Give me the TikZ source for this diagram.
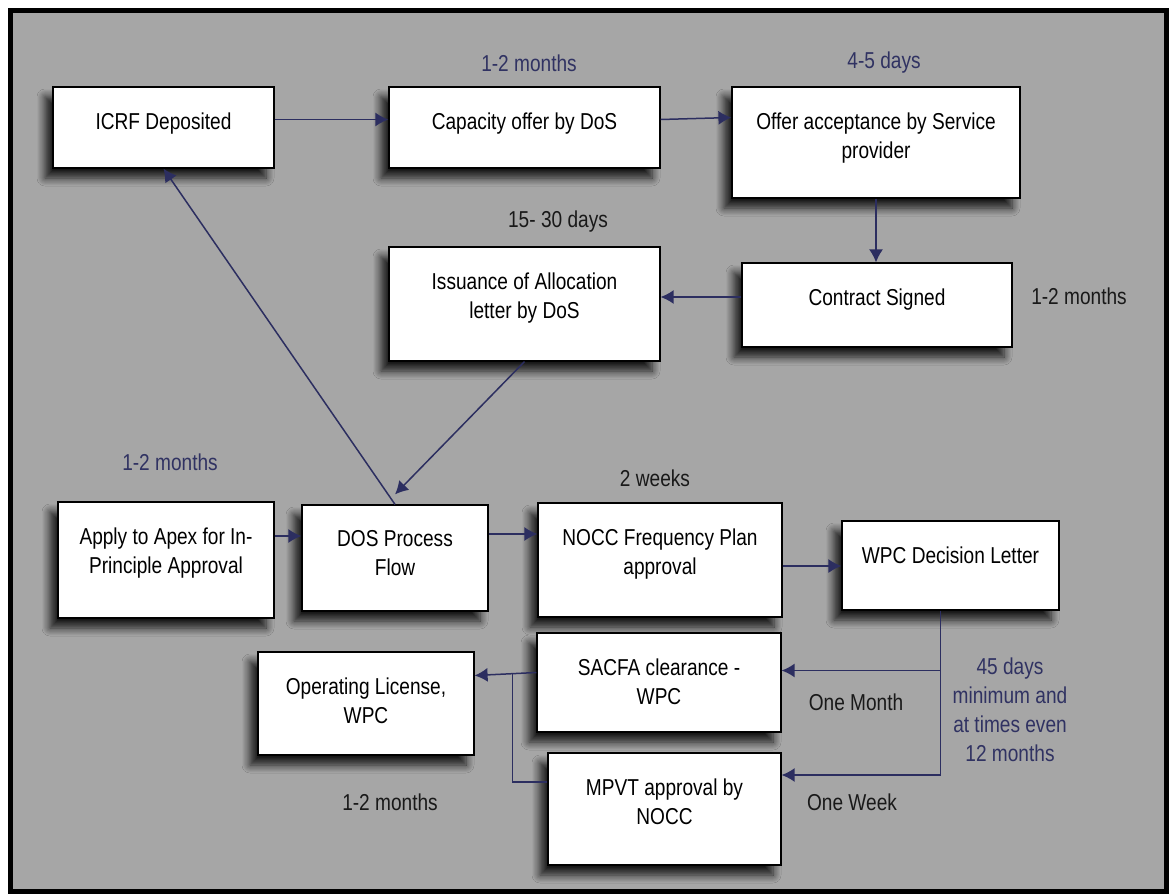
\documentclass[tikz,border=0pt]{standalone}
\usepackage{fontspec}
\setmainfont{Liberation Sans}[FakeStretch=0.83]
\usetikzlibrary{positioning}
\usetikzlibrary{arrows.meta,shadows.blur}
\definecolor{panelgray}{RGB}{166,166,166}
\definecolor{linknavy}{RGB}{44,46,96}
\definecolor{notenavy}{RGB}{48,50,98}
\tikzset{
	box/.style={draw=black, line width=0.6pt, fill=white, inner sep=0pt,
		blur shadow={shadow xshift=-4pt, shadow yshift=-5pt, shadow blur radius=4pt, shadow blur steps=8, shadow opacity=85}},
	intext/.style={anchor=north, yshift=-13pt, inner sep=0pt, align=center},
	link/.style={draw=linknavy, line width=0.75pt},
	arr/.style={link, -{Latex[length=6.5pt,width=7pt]}},
	note/.style={inner sep=0pt, align=center, text=black!90},
	bluenote/.style={note, text=notenavy},
}

\begin{document}
\begin{tikzpicture}[x=0.5pt, y=-0.5pt, font=\fontsize{11.5}{14.5}\selectfont]
				\useasboundingbox (0,0) rectangle (1170,894);
				\fill[white] (0,0) rectangle (1170,894);
				\draw[line width=2.5pt, fill=panelgray] (10,10) rectangle (1166,891);

				%Boxes
				\node[box, minimum width=110.5pt, minimum height=40.5pt, label={[intext]north:{ICRF Deposited}}] (icrf) at (163.5,127.5) {};
				\node[box, minimum width=135.5pt, minimum height=40.5pt, label={[intext]north:{Capacity offer by DoS}}] (capacity) at (524.5,127.5) {};
				\node[box, minimum width=144pt, minimum height=55.5pt, label={[intext]north:{Offer acceptance by Service\\provider}}] (offer) at (876,142.5) {};
				\node[box, minimum width=135.5pt, minimum height=57pt, label={[intext]north:{Issuance of Allocation\\letter by DoS}}] (issue) at (524.5,304) {};
				\node[box, minimum width=135pt, minimum height=42pt, label={[intext]north:{Contract Signed}}] (contract) at (877,305) {};
				\node[box, minimum width=108pt, minimum height=58pt, label={[intext]north:{Apply to Apex for In-\\Principle Approval}}] (apply) at (166,560) {};
				\node[box, minimum width=93pt, minimum height=53pt, label={[intext]north:{DOS Process\\Flow}}] (dos) at (395,558) {};
				\node[box, minimum width=122pt, minimum height=57pt, label={[intext]north:{NOCC Frequency Plan\\approval}}] (nocc) at (660,560) {};
				\node[box, minimum width=108.5pt, minimum height=44.5pt, label={[intext]north:{WPC Decision Letter}}] (wpc) at (950.5,565.5) {};
				\node[box, minimum width=122pt, minimum height=49.5pt, label={[intext]north:{SACFA clearance -\\WPC}}] (sacfa) at (659,682.5) {};
				\node[box, minimum width=108pt, minimum height=51.5pt, label={[intext]north:{Operating License,\\WPC}}] (oplic) at (366,703.5) {};
				\node[box, minimum width=116.5pt, minimum height=56pt, label={[intext]north:{MPVT approval by\\NOCC}}] (mpvt) at (664.5,809) {};

				%Durations
				\node[bluenote] (t1) at (529,63) {1-2 months};
				\node[bluenote] (t2) at (884,63) {4-5 days};
				\node[note] (t3) at (558,222) {15- 30 days};
				\node[note] (t4) at (1079,296) {1-2 months};
				\node[bluenote] (t5) at (170,462) {1-2 months};
				\node[note] (t6) at (655,478) {2 weeks};
				\node[note] (t7) at (856,702) {One Month};
				\node[note] (t8) at (852,802) {One Week};
				\node[bluenote] (t9) at (1010,710) {45 days\\minimum and\\at times even\\12 months};
				\node[note] (t10) at (390,802) {1-2 months};

				%Lines
				\draw[arr] ([yshift=4pt]icrf.east) -- ([yshift=4pt]capacity.west);
				\draw[arr] ([yshift=4pt]capacity.east) -- ([yshift=12.5pt]offer.west);
				\draw[arr] (offer.south) -- (offer.south |- contract.north);
				\draw[arr] ([yshift=4pt]contract.west) -- ([yshift=4pt]contract.west -| issue.east);
				\draw[arr] (issue.south) -- ([yshift=5pt]dos.north);
				\draw[arr] (dos.north) -- (icrf.south);
				\draw[arr] ([yshift=12pt]apply.east) -- ([yshift=12pt]apply.east -| dos.west);
				\draw[arr] ([yshift=12pt]dos.east) -- ([yshift=12pt]dos.east -| nocc.west);
				\draw[arr] ([yshift=-3pt]nocc.east) -- ([yshift=-3pt]nocc.east -| wpc.west);

				\coordinate (wpcdrop) at ([xshift=-5pt]wpc.south);
				\coordinate (sacfain) at ([yshift=6pt]sacfa.east);
				\coordinate (mpvtin) at ([yshift=17pt]mpvt.east);
				\draw[link] (wpcdrop) -- (wpcdrop |- mpvtin);
				\draw[arr] (wpcdrop |- sacfain) -- (sacfain);
				\draw[arr] (wpcdrop |- mpvtin) -- (mpvtin);

				\coordinate (sacfaout) at ([yshift=5pt]sacfa.west);
				\coordinate (mpvtout) at ([yshift=13.5pt]mpvt.west);
				\coordinate (merge) at ([xshift=-12pt]sacfaout);
				\draw[arr] (sacfaout) -- ([yshift=14pt]oplic.east);
				\draw[link] (mpvtout) -- (merge |- mpvtout) -- (merge);

\end{tikzpicture}
\end{document}
